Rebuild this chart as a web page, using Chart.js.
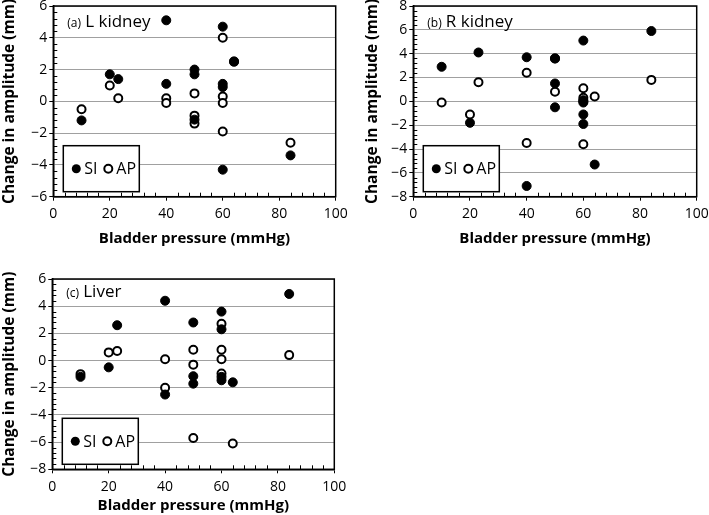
<!DOCTYPE html>
<html>
<head>
<meta charset="utf-8">
<script src="https://cdn.jsdelivr.net/npm/chart.js@4.4.1/dist/chart.umd.min.js"></script>
<style>
  body { margin: 0; background: #fff; }
  #wrap { position: relative; width: 709px; height: 515px; }
  canvas { position: absolute; }
</style>
</head>
<body>
<div id="wrap">
  <canvas id="lk" width="355" height="255" style="left:0;top:0"></canvas>
  <canvas id="rk" width="354" height="255" style="left:355px;top:0"></canvas>
  <canvas id="lv" width="355" height="260" style="left:0;top:255px"></canvas>
</div>
<script>
// values (bladder pressure, change in amplitude)
var xTicks = [0, 20, 40, 60, 80, 100];
var seriesNames = ['SI', 'AP'];

var lkSIx = [10, 20, 23, 40, 40, 50, 50, 50, 60, 60, 60, 60, 64, 84];
var lkSIy = [-1.2, 1.7, 1.4, 5.1, 1.1, 2.0, 1.7, -1.15, 4.7, 1.1, 0.9, -4.3, 2.5, -3.4];
var lkAPx = [10, 20, 23, 40, 40, 50, 50, 50, 60, 60, 60, 60, 64, 84];
var lkAPy = [-0.5, 1.0, 0.2, 0.2, -0.1, 0.5, -0.9, -1.4, 4.0, 0.3, -0.1, -1.9, 2.5, -2.6];

var rkSIx = [10, 20, 23, 40, 40, 50, 50, 50, 60, 60, 60, 60, 60, 60, 64, 84];
var rkSIy = [2.9, -1.8, 4.1, 3.7, -7.1, 3.6, 1.5, -0.5, 5.1, 0.1, 0.0, -0.1, -1.1, -1.9, -5.3, 5.9];
var rkAPx = [10, 20, 23, 40, 40, 50, 50, 60, 60, 60, 64, 84];
var rkAPy = [-0.1, -1.1, 1.6, 2.4, -3.5, 0.8, 3.6, 1.1, 0.3, -3.6, 0.4, 1.8];

var lvSIx = [10, 20, 23, 40, 40, 50, 50, 50, 60, 60, 60, 60, 64, 84];
var lvSIy = [-1.2, -0.5, 2.6, 4.4, -2.5, 2.8, -1.15, -1.7, 3.6, 2.3, -1.2, -1.45, -1.6, 4.9];
var lvAPx = [10, 20, 23, 40, 40, 50, 50, 50, 60, 60, 60, 60, 64, 84];
var lvAPy = [-1.0, 0.6, 0.7, 0.1, -2.0, 0.8, -0.3, -5.7, 2.7, 0.8, 0.1, -0.95, -6.1, 0.4];

var FONT = '"Open Sans", "Noto Sans", sans-serif';

function pts(xs, ys) {
  return xs.map(function (x, i) { return {x: x, y: ys[i]}; });
}

function minus(v) { return String(v).replace('-', '\u2212'); }

// frame, minor ticks, legend box, panel label
var decor = {
  id: 'decor',
  afterDatasetsDraw: function (chart, args, o) {
    var ctx = chart.ctx, a = chart.chartArea;
    var xs = chart.scales.x, ys = chart.scales.y;
    ctx.save();

    // legend box
    var bx = a.left + 10, bw = 76, bh = 46, by = a.bottom - 5 - bh;
    ctx.fillStyle = '#fff';
    ctx.fillRect(bx, by, bw, bh);
    ctx.strokeStyle = '#000';
    ctx.lineWidth = 1.5;
    ctx.strokeRect(bx, by, bw, bh);
    var cy = by + bh / 2;
    ctx.font = '16px ' + FONT;
    ctx.textBaseline = 'middle';
    ctx.fillStyle = '#000';
    ctx.beginPath(); ctx.arc(bx + 13, cy, 4.5, 0, Math.PI * 2); ctx.fill();
    ctx.fillText(chart.data.datasets[0].label, bx + 21, cy + 1);
    ctx.beginPath(); ctx.arc(bx + 45, cy, 4, 0, Math.PI * 2);
    ctx.fillStyle = '#fff'; ctx.fill();
    ctx.lineWidth = 2; ctx.stroke();
    ctx.fillStyle = '#000';
    ctx.fillText(chart.data.datasets[1].label, bx + 53, cy + 1);

    // frame
    ctx.lineWidth = 1.5;
    ctx.strokeRect(a.left, a.top, a.right - a.left, a.bottom - a.top);

    // minor ticks pointing inward
    ctx.lineWidth = 1;
    ctx.beginPath();
    for (var v = ys.min; v <= ys.max + 1e-6; v += 0.4) {
      var r = Math.round(v * 10) / 10;
      if (Math.abs(r % 2) < 1e-6) continue;
      var py = Math.round(ys.getPixelForValue(r)) + 0.5;
      ctx.moveTo(a.left, py); ctx.lineTo(a.left + 4, py);
    }
    for (var u = 0; u <= 100; u += 4) {
      if (u % 20 === 0) continue;
      var px = Math.round(xs.getPixelForValue(u)) + 0.5;
      ctx.moveTo(px, a.bottom); ctx.lineTo(px, a.bottom - 4);
    }
    ctx.stroke();

    // panel label
    ctx.textBaseline = 'alphabetic';
    ctx.font = '12px ' + FONT;
    ctx.fillText(o.tag, a.left + 14, a.top + o.base);
    var w = ctx.measureText(o.tag + ' ').width;
    ctx.font = '17px ' + FONT;
    ctx.fillText(o.name, a.left + 14 + w + 1, a.top + o.base);
    ctx.restore();
  }
};

function panel(id, siX, siY, apX, apY, yMin, yMax, tag, name, g) {
  new Chart(document.getElementById(id), {
    type: 'scatter',
    data: {
      datasets: [
        {label: seriesNames[0], data: pts(siX, siY), pointRadius: 4.5, pointBorderWidth: 1,
         pointBackgroundColor: '#000', pointBorderColor: '#000'},
        {label: seriesNames[1], data: pts(apX, apY), pointRadius: 4, pointBorderWidth: 2,
         pointBackgroundColor: '#fff', pointBorderColor: '#000'}
      ]
    },
    options: {
      responsive: false,
      animation: false,
      events: [],
      layout: {padding: {left: 0, top: g.top, right: g.right, bottom: 0}},
      plugins: {
        legend: {display: false},
        tooltip: {enabled: false},
        decor: {tag: tag, name: name, base: g.base}
      },
      scales: {
        x: {
          type: 'linear', min: 0, max: 100,
          afterBuildTicks: function (s) { s.ticks = xTicks.map(function (v) { return {value: v}; }); },
          afterFit: function (s) { s.height = g.xh; s.paddingLeft = 0; s.paddingRight = 0; },
          ticks: {color: '#000', padding: 5, font: {family: FONT, size: 14}, maxRotation: 0},
          grid: {drawOnChartArea: false, tickLength: 4, color: '#000'},
          border: {color: '#000', width: 1.5},
          title: {display: true, text: 'Bladder pressure (mmHg)', color: '#000',
                  font: {family: FONT, size: 15, weight: 'bold'}, padding: {top: 0, bottom: g.xt}}
        },
        y: {
          type: 'linear', min: yMin, max: yMax,
          ticks: {stepSize: 2, color: '#000', padding: 2, font: {family: FONT, size: 14},
                  callback: function (v) { return minus(v); }},
          afterFit: function (s) { s.width = g.yw; s.paddingTop = 0; s.paddingBottom = 0; },
          grid: {color: '#a0a0a0', lineWidth: 1, tickLength: 4, tickColor: '#000'},
          border: {color: '#000', width: 1.5},
          title: {display: true, text: 'Change in amplitude (mm)', color: '#000',
                  font: {family: FONT, size: 15.5, weight: 'bold'}, padding: {top: g.yt, bottom: 0}}
        }
      }
    },
    plugins: [decor]
  });
}

panel('lk', lkSIx, lkSIy, lkAPx, lkAPy, -6, 6, '(a)', 'L kidney',
      {top: 6, right: 19.3, yw: 53.3, xh: 58.3, xt: 7, yt: 0.7, base: 21});
panel('rk', rkSIx, rkSIy, rkAPx, rkAPy, -8, 8, '(b)', 'R kidney',
      {top: 6, right: 12.3, yw: 58.3, xh: 58.3, xt: 7, yt: 8.7, base: 21});
panel('lv', lvSIx, lvSIy, lvAPx, lvAPy, -8, 6, '(c)', 'Liver',
      {top: 24, right: 20.7, yw: 52.3, xh: 45.7, xt: 0, yt: 0, base: 18});
</script>
</body>
</html>
